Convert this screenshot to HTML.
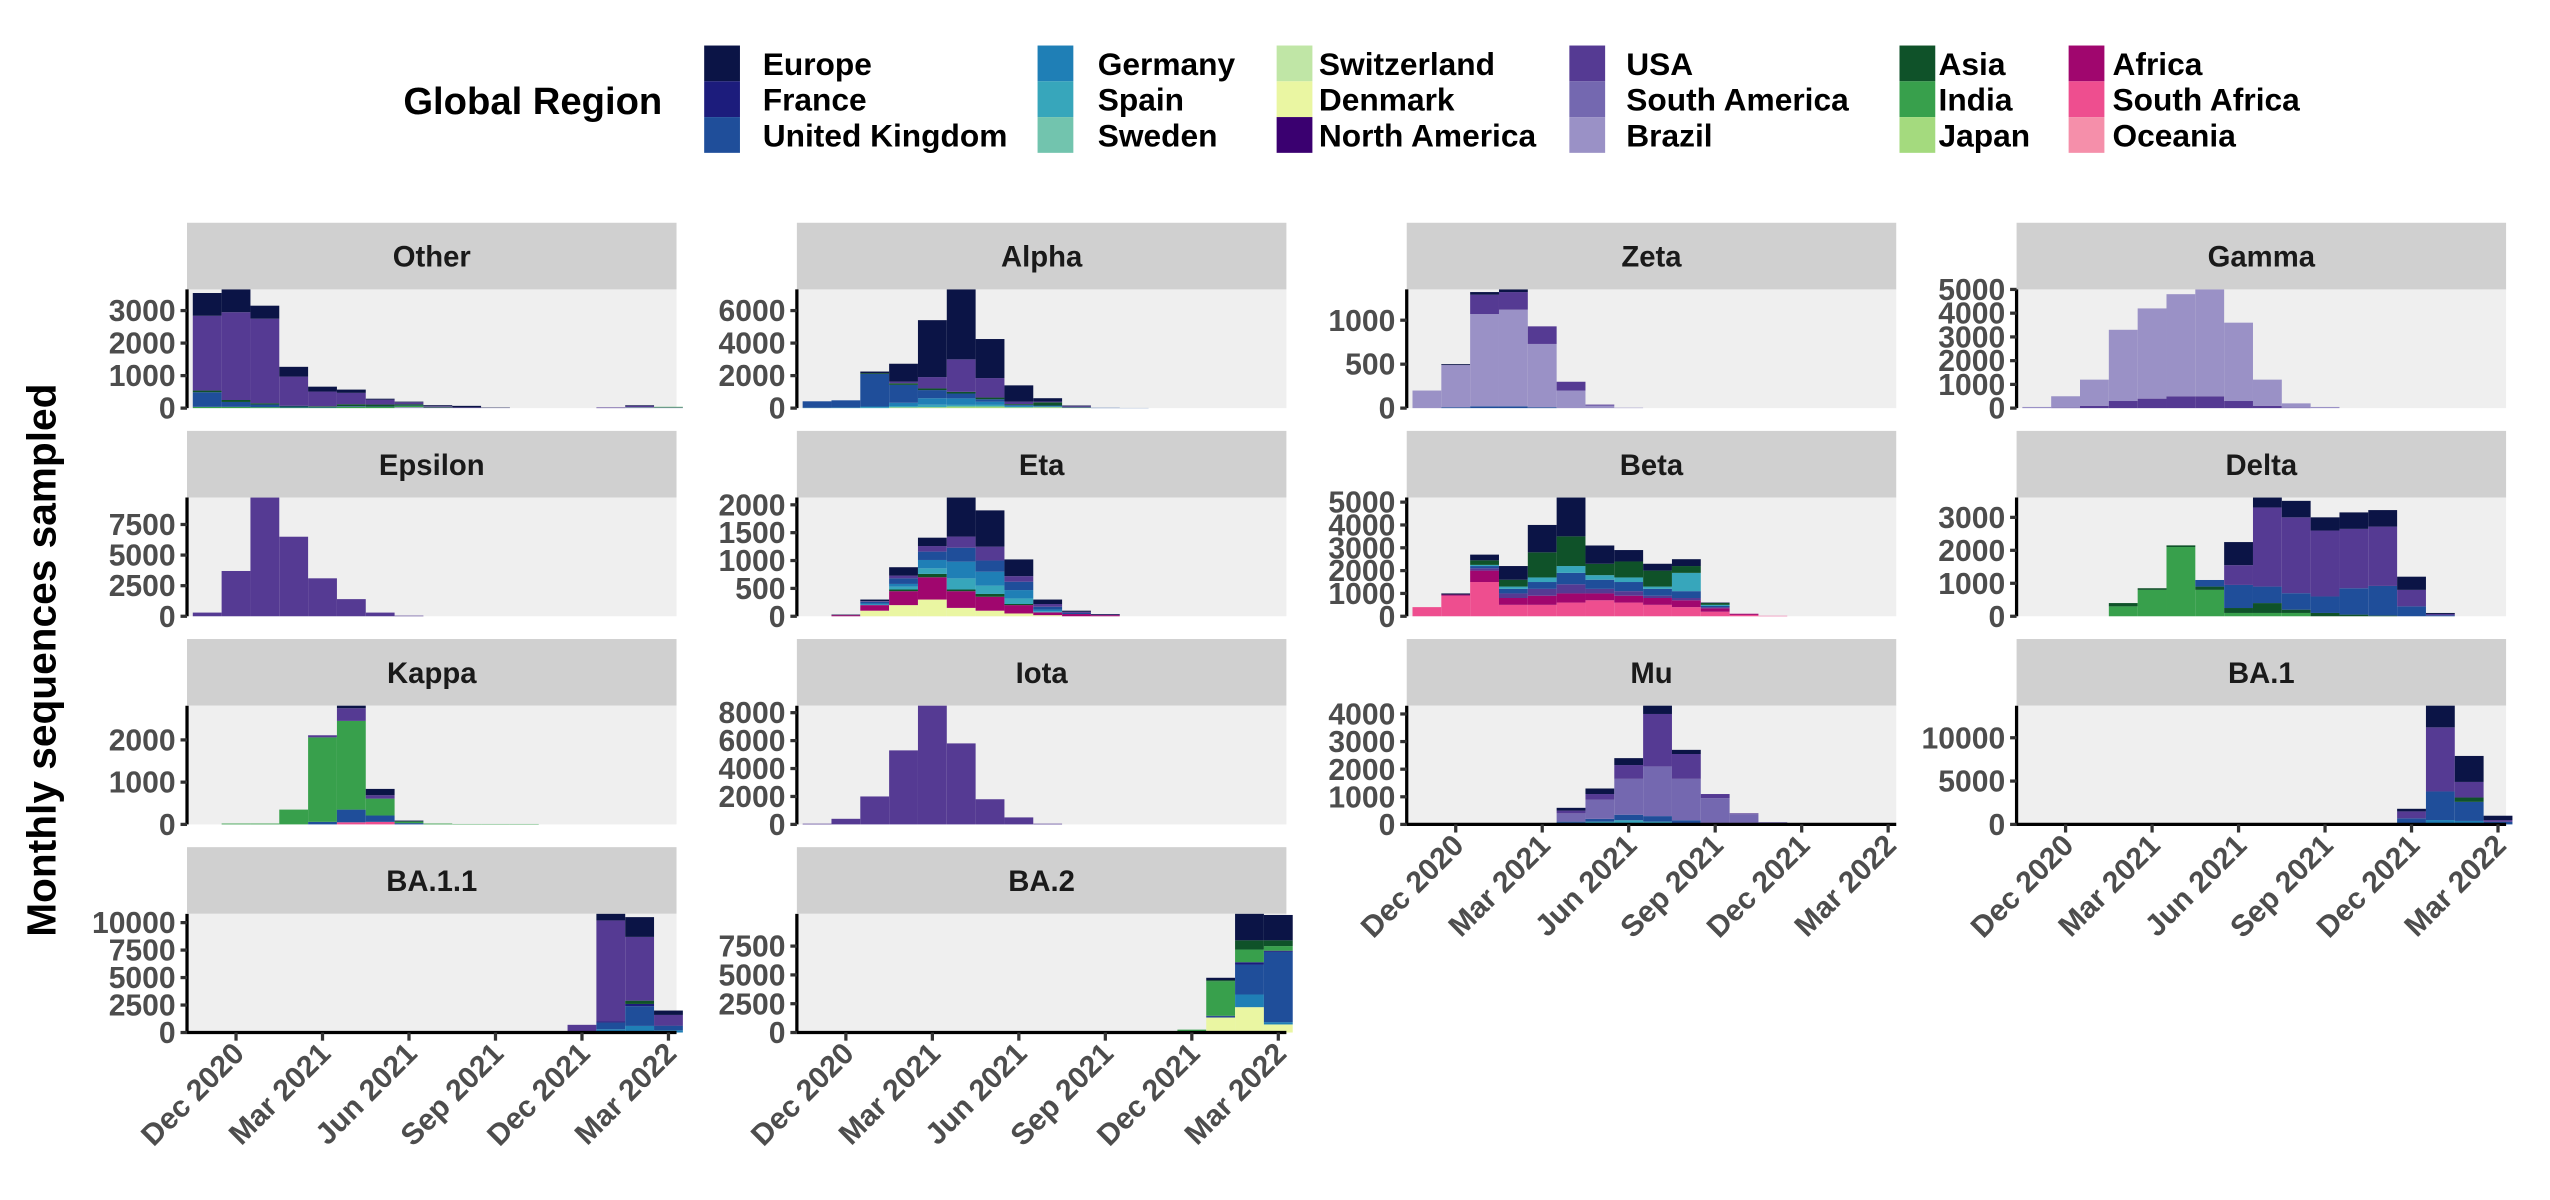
<!DOCTYPE html>
<html><head><meta charset="utf-8"><style>
html,body{margin:0;padding:0;background:#fff}
svg{display:block}
text{font-family:"Liberation Sans",Arial,sans-serif;font-weight:bold}
</style></head><body>
<svg id="chart" width="2550" height="1200" viewBox="0 0 1568 738" preserveAspectRatio="none" xmlns="http://www.w3.org/2000/svg"></svg>
<script>
const regions=["Europe","France","United Kingdom","Germany","Spain","Sweden","Switzerland","Denmark","North America","USA","South America","Brazil","Asia","India","Japan","Africa","South Africa","Oceania"];
const regionColors=["#0b1446","#1c1c7c","#1f4e9a","#1f7fb6","#37a6bb","#72c4ae","#c0e6a6","#eaf6a2","#3a0070","#553a93","#7468b0","#9a91c6","#0f5229","#38a04c","#a4da7e","#a0066e","#ee4e8f","#f58faa"];
const months=["Nov 2020","Dec 2020","Jan 2021","Feb 2021","Mar 2021","Apr 2021","May 2021","Jun 2021","Jul 2021","Aug 2021","Sep 2021","Oct 2021","Nov 2021","Dec 2021","Jan 2022","Feb 2022","Mar 2022"];
const tickMonthIdx=[1,4,7,10,13,16];
const tickLabels=["Dec 2020","Mar 2021","Jun 2021","Sep 2021","Dec 2021","Mar 2022"];
const panelNames=["Other","Alpha","Zeta","Gamma","Epsilon","Eta","Beta","Delta","Kappa","Iota","Mu","BA.1","BA.1.1","BA.2"];
const yTicks=[[0,1000,2000,3000],[0,2000,4000,6000],[0,500,1000],[0,1000,2000,3000,4000,5000],[0,2500,5000,7500],[0,500,1000,1500,2000],[0,1000,2000,3000,4000,5000],[0,1000,2000,3000],[0,1000,2000],[0,2000,4000,6000,8000],[0,1000,2000,3000,4000],[0,5000,10000],[0,2500,5000,7500,10000],[0,2500,5000,7500]];
// series per panel, listed top-of-stack first; values Nov2020..Mar2022
const otherData={"Europe":[700,700,400,300,150,100,30,20,30,50,10,0,0,0,0,20,0],"USA":[2300,2700,2600,900,450,350,150,60,20,10,0,0,0,0,20,40,0],"Asia":[50,60,40,20,20,60,60,40,20,0,0,0,0,0,0,0,0],"United Kingdom":[450,150,80,30,20,20,10,10,0,0,0,0,0,0,0,0,0],"India":[40,40,30,20,20,40,40,40,0,0,0,0,0,0,0,10,20],"Brazil":[0,0,0,0,0,0,0,30,20,10,10,0,0,0,0,20,20]};
const alphaData={"Europe":[0,0,100,1100,3500,4300,2400,1000,200,40,0,0,0,0,0,0,0],"USA":[0,0,0,100,700,2000,1200,150,50,60,0,0,0,0,0,0,0],"Asia":[0,0,50,100,100,100,100,50,200,20,0,0,0,0,0,0,0],"United Kingdom":[400,450,2000,1100,500,300,150,50,50,20,20,10,0,0,0,0,0],"Germany":[0,0,50,200,400,400,200,50,0,0,0,0,0,0,0,0,0],"Spain":[20,30,50,80,150,100,100,50,50,0,0,0,0,0,0,0,0],"Japan":[0,0,0,50,60,100,100,50,60,20,0,0,0,0,0,0,0]};
const zetaData={"Europe":[0,10,30,30,0,0,0,0,0,0,0,0,0,0,0,0,0],"USA":[0,0,220,200,200,100,10,0,0,0,0,0,0,0,0,0,0],"Brazil":[200,480,1050,1100,720,200,30,5,0,0,0,0,0,0,0,0,0],"United Kingdom":[0,10,20,20,10,0,0,0,0,0,0,0,0,0,0,0,0]};
const gammaData={"Brazil":[50,480,1100,3000,3800,4300,4500,3300,1100,180,50,0,0,0,0,0,0],"USA":[0,20,100,300,400,500,500,300,100,20,0,0,0,0,0,0,0]};
const epsilonData={"USA":[300,3700,9700,6500,3100,1400,300,50,0,0,0,0,0,0,0,0,0]};
const etaData={"Europe":[0,10,30,150,150,700,650,300,80,20,10,0,0,0,0,0,0],"USA":[0,0,10,50,100,200,250,100,50,20,10,0,0,0,0,0,0],"United Kingdom":[0,0,30,100,150,250,200,150,50,20,0,0,0,0,0,0,0],"Germany":[0,0,20,50,150,300,250,150,30,0,0,0,0,0,0,0,0],"Spain":[0,0,10,50,100,200,150,100,20,0,0,0,0,0,0,0,0],"Asia":[0,0,0,30,60,30,50,20,0,0,0,0,0,0,0,0,0],"Africa":[0,20,100,250,400,300,250,150,50,40,20,0,0,0,0,0,0],"Denmark":[0,0,100,200,300,150,100,50,20,0,0,0,0,0,0,0,0]};
const betaData={"Europe":[0,50,250,600,1200,1700,800,500,300,300,20,0,0,0,0,0,0],"Asia":[0,0,200,300,1100,1300,500,700,700,300,80,0,0,0,0,0,0],"Spain":[0,0,50,100,200,300,200,200,100,800,50,0,0,0,0,0,0],"United Kingdom":[0,0,100,200,300,500,400,400,300,300,50,0,0,0,0,0,0],"USA":[0,0,100,200,300,400,200,200,100,100,50,0,0,0,0,0,0],"Africa":[0,50,500,300,400,400,300,300,300,300,150,50,0,0,0,0,0],"South Africa":[400,900,1500,500,500,600,700,600,500,400,200,60,20,0,0,0,0]};
const deltaData={"Europe":[0,0,0,0,0,0,0,700,300,500,400,500,500,400,30,0,0],"USA":[0,0,0,0,0,0,0,600,2400,2300,2000,1800,1800,500,40,0,0],"United Kingdom":[0,0,0,0,0,0,200,700,500,500,500,800,900,300,30,0,0],"Asia":[0,0,0,100,50,50,100,150,300,100,100,50,20,0,0,0,0],"India":[0,0,0,300,800,2100,800,100,100,100,0,0,0,0,0,0,0]};
const kappaData={"Europe":[0,0,0,0,0,60,150,20,0,0,0,0,0,0,0,0,0],"USA":[0,0,0,0,50,300,80,0,0,0,0,0,0,0,0,0,0],"India":[0,20,20,350,2000,2100,400,40,20,10,10,10,0,0,0,0,0],"United Kingdom":[0,0,0,0,60,300,150,30,0,0,0,0,0,0,0,0,0],"South Africa":[0,0,0,0,0,50,60,0,0,0,0,0,0,0,0,0,0]};
const iotaData={"USA":[50,400,2000,5300,8500,5800,1800,500,50,0,0,0,0,0,0,0,0]};
const muData={"Europe":[0,0,0,0,0,100,200,250,300,150,0,0,0,0,0,0,0],"USA":[0,0,0,0,0,100,200,500,1900,900,150,30,0,0,0,0,0],"South America":[0,0,0,0,0,300,700,1300,1800,1500,900,350,80,30,0,0,0],"United Kingdom":[0,0,0,0,0,40,100,200,200,150,50,20,0,0,0,0,0],"Spain":[0,0,0,0,0,60,100,150,100,0,0,0,0,0,0,0,0]};
const ba1Data={"Europe":[0,0,0,0,0,0,0,0,0,0,0,0,0,300,2500,3000,500],"USA":[0,0,0,0,0,0,0,0,0,0,0,0,50,800,7400,1800,200],"Asia":[0,0,0,0,0,0,0,0,0,0,0,0,0,0,0,500,0],"United Kingdom":[0,0,0,0,0,0,0,0,0,0,0,0,0,600,3300,2200,300],"Germany":[0,0,0,0,0,0,0,0,0,0,0,0,0,100,500,400,0]};
const ba11Data={"Europe":[0,0,0,0,0,0,0,0,0,0,0,0,0,0,600,1800,400],"USA":[0,0,0,0,0,0,0,0,0,0,0,0,0,600,9200,5800,950],"Asia":[0,0,0,0,0,0,0,0,0,0,0,0,0,0,0,300,0],"France":[0,0,0,0,0,0,0,0,0,0,0,0,0,0,100,200,50],"United Kingdom":[0,0,0,0,0,0,0,0,0,0,0,0,0,100,600,1800,400],"Germany":[0,0,0,0,0,0,0,0,0,0,0,0,0,0,300,600,200]};
const ba2Data={"Europe":[0,0,0,0,0,0,0,0,0,0,0,0,0,0,200,2300,2200],"Asia":[0,0,0,0,0,0,0,0,0,0,0,0,0,0,100,800,500],"India":[0,0,0,0,0,0,0,0,0,0,0,0,0,250,3000,1100,400],"France":[0,0,0,0,0,0,0,0,0,0,0,0,0,0,50,200,100],"United Kingdom":[0,0,0,0,0,0,0,0,0,0,0,0,0,0,100,2600,6100],"Germany":[0,0,0,0,0,0,0,0,0,0,0,0,0,0,0,1100,200],"Denmark":[0,0,0,0,0,0,0,0,0,0,0,0,0,0,1300,2200,700]};
const panelData=[otherData,alphaData,zetaData,gammaData,epsilonData,etaData,betaData,deltaData,kappaData,iotaData,muData,ba1Data,ba11Data,ba2Data];

const NS="http://www.w3.org/2000/svg";
const svg=document.getElementById('chart');
function mk(tag,attrs,parent){const e=document.createElementNS(NS,tag);for(const k in attrs)e.setAttribute(k,attrs[k]);(parent||svg).appendChild(e);return e;}

const lg=mk('g',{});


const lt=mk('text',{x:248,y:70,'font-size':23.5,fill:'#000'},lg);lt.textContent='Global Region';


const keyX=[433,638,785,965,1168,1272];
const labX=[469,675,811,1000,1192,1299];
regions.forEach((r,i)=>{
  const c=Math.floor(i/3),row=i%3;
  const g=mk('g',{},lg);
  
  
  mk('rect',{x:keyX[c],y:28+row*22,width:22,height:22,fill:regionColors[i]},g);
  const t=mk('text',{x:labX[c],y:46+row*22,'font-size':19.5,fill:'#000'},g);t.textContent=r;
});

const yt=mk('text',{x:0,y:0,'font-size':25,fill:'#000','text-anchor':'middle',transform:'translate(34,406) rotate(-90)'});
yt.textContent='Monthly sequences sampled';



const colX=[115,490,865,1240],W=301;
const rowY=[137,265,393,521],SH=41,PH=73;
const K=W/16.98;
function xc(i,x0){return x0+(i+0.7)*K;}
panelNames.forEach((name,p)=>{
  const col=p%4,row=Math.floor(p/4);
  const x0=colX[col],sy=rowY[row],py=sy+SH,by=py+PH;
  const g=mk('g',{});
  
  
  const s=mk('rect',{x:x0,y:sy,width:W,height:SH,fill:'#d0d0d0'},g);
  
  
  const st=mk('text',{x:x0+W/2,y:sy+27,'font-size':18,'text-anchor':'middle',fill:'#1a1a1a'},g);st.textContent=name;
  mk('rect',{x:x0,y:py,width:W,height:PH,fill:'#efefef'},g);
  const data=panelData[p];
  const order=Object.keys(data).reverse();
  const totals=months.map((m,i)=>Object.values(data).reduce((a,v)=>a+v[i],0));
  const ymax=Math.max(...totals);
  const ys=v=>by-v/ymax*PH;
  months.forEach((m,i)=>{
    let cum=0;
    order.forEach(r=>{
      const v=data[r][i];
      if(!v)return;
      const y1=ys(cum+v),y0=ys(cum);
      const b=mk('rect',{x:xc(i,x0)-K/2,y:y1,width:K,height:y0-y1,fill:regionColors[regions.indexOf(r)]},g);
      
      
      cum+=v;
    });
  });
  mk('line',{x1:x0,y1:py,x2:x0,y2:by,stroke:'#000','stroke-width':2},g);
  yTicks[p].forEach(t=>{
    if(t>ymax)return;
    const y=ys(t);
    mk('line',{x1:x0-4,y1:y,x2:x0,y2:y,stroke:'#333','stroke-width':2},g);
    const tx=mk('text',{x:x0-7,y:y+6.5,'font-size':18.5,'text-anchor':'end',fill:'#4d4d4d'},g);tx.textContent=t;
  });
  const bottom=(row===3)||(row===2&&col>=2);
  if(bottom){
    mk('line',{x1:x0,y1:by,x2:x0+W,y2:by,stroke:'#000','stroke-width':2},g);
    tickMonthIdx.forEach((mi,j)=>{
      const x=xc(mi,x0);
      mk('line',{x1:x,y1:by,x2:x,y2:by+5,stroke:'#333','stroke-width':2},g);
      const tx=mk('text',{x:0,y:0,'font-size':18.5,'text-anchor':'end',fill:'#4d4d4d',transform:`translate(${x+6},${by+14}) rotate(-45)`},g);
      tx.textContent=tickLabels[j];
    });
  }
});
</script>
</body></html>
